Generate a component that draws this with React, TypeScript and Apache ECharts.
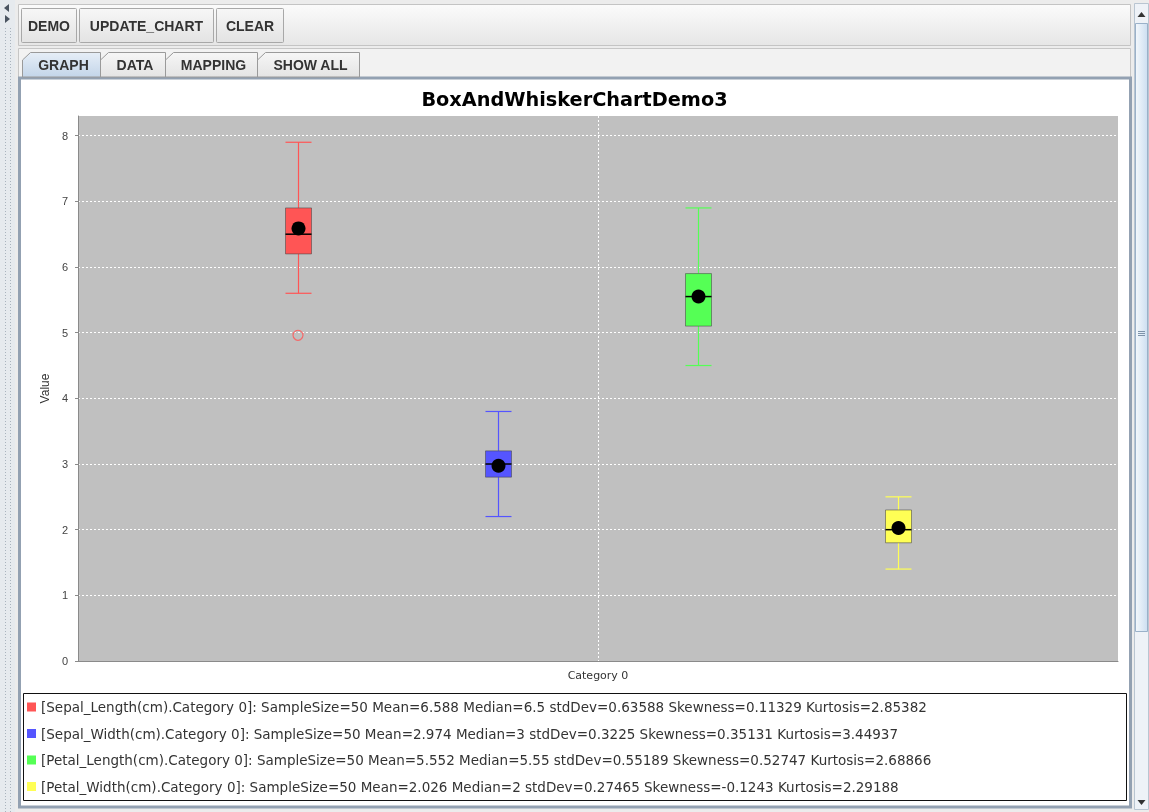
import React, { useEffect, useRef } from "react";
import * as echarts from "echarts";

// ---------- data ----------
const CATEGORY = "Category 0";
const SERIES_NAMES = ["Sepal_Length(cm)", "Sepal_Width(cm)", "Petal_Length(cm)", "Petal_Width(cm)"];
const WHISKER_LOW = [5.6, 2.2, 4.5, 1.4];
const Q1 = [6.2, 2.8, 5.1, 1.8];
const MEDIAN_BOX = [6.5, 3.0, 5.55, 2.0];
const Q3 = [6.9, 3.2, 5.9, 2.3];
const WHISKER_HIGH = [7.9, 3.8, 6.9, 2.5];
const MEAN = [6.588, 2.974, 5.552, 2.026];
const OUTLIERS = [[4.96], [], [], []];
const SAMPLE_SIZE = [50, 50, 50, 50];
const MEDIAN_STAT = [6.5, 3, 5.55, 2];
const STD_DEV = [0.63588, 0.3225, 0.55189, 0.27465];
const SKEWNESS = [0.11329, 0.35131, 0.52747, -0.1243];
const KURTOSIS = [2.85382, 3.44937, 2.68866, 2.29188];
const Y_TICKS = [0, 1, 2, 3, 4, 5, 6, 7, 8];
const BUTTONS = ["DEMO", "UPDATE_CHART", "CLEAR"];
const TABS = ["GRAPH", "DATA", "MAPPING", "SHOW ALL"];
const TITLE = "BoxAndWhiskerChartDemo3";

// ---------- style ----------
const COLORS = ["#FF5555", "#5555FF", "#55FF55", "#FFFF55"];
const FONT = "'Liberation Sans', Arial, sans-serif";
const WIDE_FONT = "'DejaVu Sans', Verdana, sans-serif";
const X_MAX = 5.2;
const FIRST_SLOT = 1.1;
const BOX_WIDTH = 0.13;

const legendText = (i: number) =>
  `[${SERIES_NAMES[i]}.${CATEGORY}]: SampleSize=${SAMPLE_SIZE[i]} Mean=${MEAN[i]} Median=${MEDIAN_STAT[i]} stdDev=${STD_DEV[i]} Skewness=${SKEWNESS[i]} Kurtosis=${KURTOSIS[i]}`;

function chrome(): any[] {
  const els: any[] = [];
  const Z = -10;
  els.push({ type: "rect", z: Z, shape: { x: 0, y: 0, width: 1149, height: 812 }, style: { fill: "#ececec" } });
  // left split strip
  els.push({ type: "rect", z: Z, shape: { x: 0, y: 0, width: 15, height: 812 }, style: { fill: "#e6eaee" } });
  els.push({ type: "line", z: Z, shape: { x1: 5.5, y1: 28, x2: 5.5, y2: 812 }, style: { stroke: "#a9b3bd", lineDash: [1, 2], lineWidth: 1 } });
  els.push({ type: "line", z: Z, shape: { x1: 10.5, y1: 28, x2: 10.5, y2: 812 }, style: { stroke: "#a9b3bd", lineDash: [1, 2], lineWidth: 1 } });
  els.push({ type: "polygon", z: Z, shape: { points: [[4, 8], [9, 4], [9, 12]] }, style: { fill: "#4a5460" } });
  els.push({ type: "polygon", z: Z, shape: { points: [[5, 15], [10, 19], [5, 23]] }, style: { fill: "#4a5460" } });
  // toolbar
  els.push({
    type: "rect", z: Z, shape: { x: 18.5, y: 4.5, width: 1112, height: 41 },
    style: {
      fill: new echarts.graphic.LinearGradient(0, 0, 0, 1, [{ offset: 0, color: "#fbfbfb" }, { offset: 1, color: "#e6e6e6" }]),
      stroke: "#c4c4c4", lineWidth: 1,
    },
  });
  const btnX = [21.5, 79.5, 216.5];
  const btnW = [55, 134, 67];
  BUTTONS.forEach((b, i) => {
    els.push({
      type: "rect", z: Z, shape: { x: btnX[i], y: 8.5, width: btnW[i], height: 34, r: 1 },
      style: {
        fill: new echarts.graphic.LinearGradient(0, 0, 0, 1, [{ offset: 0, color: "#f7f7f7" }, { offset: 1, color: "#e3e3e3" }]),
        stroke: "#a8a8a8", lineWidth: 1,
      },
    });
    els.push({
      type: "text", z: Z + 1, x: btnX[i] + btnW[i] / 2, y: 26,
      style: { text: b, fill: "#333", font: `bold 14px ${FONT}`, align: "center", verticalAlign: "middle" },
    });
  });
  // tab strip
  els.push({ type: "rect", z: Z, shape: { x: 18.5, y: 48.5, width: 1112, height: 29 }, style: { fill: "#f2f2f2", stroke: "#c6c6c6", lineWidth: 1 } });
  const tabX = [22, 100, 165, 257, 359];
  TABS.forEach((t, i) => {
    const x0 = tabX[i] + 0.5;
    const x1 = tabX[i + 1] + 0.5;
    const sel = i === 0;
    els.push({
      type: "polygon", z: Z + (sel ? 2 : 1),
      shape: { points: [[x0, 77], [x0, 60], [x0 + 8, 52.5], [x1, 52.5], [x1, 77]] },
      style: {
        fill: sel
          ? new echarts.graphic.LinearGradient(0, 0, 0, 1, [{ offset: 0, color: "#e6eef7" }, { offset: 1, color: "#c3d5e9" }])
          : new echarts.graphic.LinearGradient(0, 0, 0, 1, [{ offset: 0, color: "#f6f6f6" }, { offset: 1, color: "#e4e4e4" }]),
        stroke: "#9a9a9a", lineWidth: 1,
      },
    });
    els.push({
      type: "text", z: Z + 3, x: (x0 + x1) / 2 + 2, y: 64.5,
      style: { text: t, fill: "#333", font: `bold 14px ${FONT}`, align: "center", verticalAlign: "middle" },
    });
  });
  // content panel
  els.push({ type: "rect", z: Z, shape: { x: 19.5, y: 78, width: 1111, height: 729 }, style: { fill: "#ffffff", stroke: "#93a1b2", lineWidth: 3 } });
  // scrollbar
  els.push({ type: "rect", z: Z, shape: { x: 1134.5, y: 3.5, width: 14, height: 806 }, style: { fill: "#eef2f7", stroke: "#b9c5d1", lineWidth: 1 } });
  els.push({ type: "polygon", z: Z, shape: { points: [[1137.5, 17], [1141.5, 12], [1145.5, 17]] }, style: { fill: "#333" } });
  els.push({ type: "polygon", z: Z, shape: { points: [[1137.5, 800], [1145.5, 800], [1141.5, 805]] }, style: { fill: "#333" } });
  els.push({
    type: "rect", z: Z + 1, shape: { x: 1135.5, y: 23.5, width: 12, height: 608 },
    style: {
      fill: new echarts.graphic.LinearGradient(0, 0, 1, 0, [{ offset: 0, color: "#f4f8fc" }, { offset: 1, color: "#cddff1" }]),
      stroke: "#9ab1c9", lineWidth: 1,
    },
  });
  [331.5, 333.5, 335.5].forEach((gy) =>
    els.push({ type: "line", z: Z + 2, shape: { x1: 1138, y1: gy, x2: 1145, y2: gy }, style: { stroke: "#7d93aa", lineWidth: 1 } })
  );
  // legend box
  els.push({ type: "rect", z: 1, shape: { x: 23.5, y: 693.5, width: 1103, height: 107 }, style: { fill: "none", stroke: "#111", lineWidth: 1 } });
  return els;
}

export default function App() {
  const ref = useRef<HTMLDivElement>(null);
  useEffect(() => {
    document.body.style.margin = "0";
    const chart = echarts.init(ref.current!, null, { renderer: "svg" });

    const boxSeries = SERIES_NAMES.map((name, i) => ({
      type: "custom",
      name,
      itemStyle: { color: COLORS[i] },
      data: [[FIRST_SLOT + i, WHISKER_LOW[i], Q1[i], MEDIAN_BOX[i], Q3[i], WHISKER_HIGH[i], MEAN[i]]],
      renderItem: (_p: any, api: any) => {
        const x = api.value(0);
        const low = api.coord([x, api.value(1)]);
        const q1 = api.coord([x, api.value(2)]);
        const med = api.coord([x, api.value(3)]);
        const q3 = api.coord([x, api.value(4)]);
        const high = api.coord([x, api.value(5)]);
        const mean = api.coord([x, api.value(6)]);
        const w = api.size([BOX_WIDTH, 0])[0];
        const cx = Math.round(low[0]) + 0.5;
        const c = COLORS[i];
        const ws = { stroke: c, lineWidth: 1.2 };
        return {
          type: "group",
          children: [
            { type: "line", shape: { x1: cx, y1: high[1], x2: cx, y2: q3[1] }, style: ws },
            { type: "line", shape: { x1: cx, y1: q1[1], x2: cx, y2: low[1] }, style: ws },
            { type: "line", shape: { x1: cx - w / 2, y1: high[1], x2: cx + w / 2, y2: high[1] }, style: ws },
            { type: "line", shape: { x1: cx - w / 2, y1: low[1], x2: cx + w / 2, y2: low[1] }, style: ws },
            {
              type: "rect",
              shape: { x: cx - w / 2, y: q3[1], width: w, height: q1[1] - q3[1] },
              style: { fill: c, stroke: "rgba(70,70,70,0.55)", lineWidth: 1 },
            },
            { type: "line", shape: { x1: cx - w / 2, y1: med[1], x2: cx + w / 2, y2: med[1] }, style: { stroke: "#000", lineWidth: 1.5 } },
            { type: "circle", shape: { cx, cy: mean[1], r: 7 }, style: { fill: "#000" } },
          ],
        };
      },
    }));

    const outlierSeries = OUTLIERS.map((vals, i) => ({
      type: "scatter",
      name: `${SERIES_NAMES[i]} outliers`,
      symbol: "circle",
      symbolSize: 10,
      itemStyle: { color: "rgba(0,0,0,0)", borderColor: COLORS[i], borderWidth: 1.2 },
      data: vals.map((v) => [FIRST_SLOT + i, v]),
      z: 3,
    }));

    const option: any = {
      animation: false,
      textStyle: { fontFamily: FONT },
      title: {
        text: TITLE,
        left: "center",
        top: 85,
        textStyle: { fontSize: 19.3, fontWeight: "bold", color: "#000", fontFamily: WIDE_FONT },
      },
      grid: {
        left: 78,
        right: 31,
        top: 116,
        bottom: 151,
        show: true,
        backgroundColor: "#c0c0c0",
        borderWidth: 0,
      },
      xAxis: {
        type: "value",
        min: 0,
        max: X_MAX,
        interval: X_MAX / 2,
        axisLine: { show: true, lineStyle: { color: "#8a8a8a" } },
        axisTick: { show: false },
        axisLabel: {
          color: "#333",
          fontSize: 11,
          fontFamily: WIDE_FONT,
          margin: 9,
          showMinLabel: false,
          showMaxLabel: false,
          formatter: (v: number) => (Math.abs(v - X_MAX / 2) < 1e-6 ? CATEGORY : ""),
        },
        splitLine: { show: true, showMinLine: false, showMaxLine: false, lineStyle: { color: "#ffffff", type: [2, 2], width: 1 } },
      },
      yAxis: {
        type: "value",
        min: 0,
        max: 8.3,
        interval: 1,
        name: "Value",
        nameLocation: "middle",
        nameGap: 25,
        nameTextStyle: { color: "#333", fontSize: 12, fontFamily: FONT },
        axisLine: { show: true, lineStyle: { color: "#8a8a8a" } },
        axisTick: { show: true, length: 3, customValues: Y_TICKS, lineStyle: { color: "#8a8a8a" } },
        axisLabel: {
          color: "#444",
          fontSize: 11,
          margin: 10,
          customValues: Y_TICKS,
          formatter: (v: number) => String(v),
        },
        splitLine: { show: true, showMinLine: false, lineStyle: { color: "#ffffff", type: [2, 2], width: 1 } },
      },
      legend: {
        data: SERIES_NAMES,
        orient: "vertical",
        left: 22,
        top: 694,
        icon: "rect",
        itemWidth: 9,
        itemHeight: 9,
        itemGap: 10.5,
        selectedMode: false,
        formatter: (name: string) => legendText(SERIES_NAMES.indexOf(name)),
        textStyle: { color: "#333", fontSize: 13.5, lineHeight: 16, fontFamily: WIDE_FONT },
      },
      graphic: { elements: chrome() },
      series: [...boxSeries, ...outlierSeries],
    };
    chart.setOption(option);
    return () => chart.dispose();
  }, []);

  return <div ref={ref} style={{ position: "fixed", left: 0, top: 0, width: 1149, height: 812 }} />;
}
